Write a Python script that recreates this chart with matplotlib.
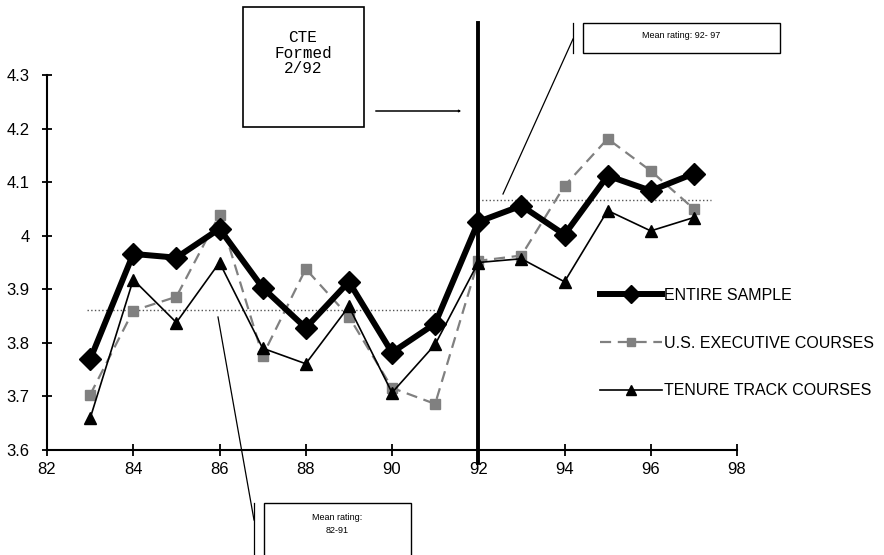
import matplotlib
matplotlib.use("Agg")
import matplotlib.pyplot as plt
from matplotlib.patches import Rectangle, FancyArrowPatch
from matplotlib.lines import Line2D

plt.rcParams['font.family'] = ['Liberation Sans', 'DejaVu Sans']

# data
years = [83, 84, 85, 86, 87, 88, 89, 90, 91, 92, 93, 94, 95, 96, 97]
entire_sample = [3.769, 3.966, 3.959, 4.013, 3.903, 3.828, 3.914, 3.782, 3.836,
                 4.026, 4.056, 4.002, 4.112, 4.084, 4.116]
us_executive = [3.703, 3.860, 3.886, 4.039, 3.776, 3.938, 3.849, 3.716, 3.686,
                3.953, 3.963, 4.093, 4.181, 4.121, 4.050]
tenure_track = [3.659, 3.918, 3.838, 3.950, 3.790, 3.761, 3.868, 3.707, 3.797,
                3.950, 3.957, 3.914, 4.047, 4.009, 4.034]

mean_pre = 3.862    # mean rating 82-91
mean_post = 4.067   # mean rating 92-97
cte_year = 92

W, H = 884, 555
fig = plt.figure(figsize=(W / 100, H / 100), dpi=100)
ax = fig.add_axes([47 / W, 1 - 450 / H, 690 / W, 375 / H])


def fx(px):
    return px / W


def fy(py):
    return 1 - py / H


# series
ax.plot(years, entire_sample, color='black', lw=4.3, marker='D', ms=11,
        label='ENTIRE SAMPLE', zorder=5)
ax.plot(years, us_executive, color='#808080', lw=1.6, ls=(0, (5, 3)),
        marker='s', ms=6.5, label='U.S. EXECUTIVE COURSES', zorder=4)
ax.plot(years, tenure_track, color='black', lw=1.2, marker='^', ms=9,
        label='TENURE TRACK COURSES', zorder=4)

# mean rating lines
ax.hlines(mean_pre, 82.93, 91.0, colors='#555555', linestyles=':', lw=1.0)
ax.hlines(mean_post, 92.0, 97.4, colors='#555555', linestyles=':', lw=1.0)

# CTE formed marker
ax.plot([cte_year, cte_year], [3.575, 4.397], color='black', lw=2.8,
        clip_on=False, zorder=6)

ax.set_xlim(82, 98)
ax.set_ylim(3.6, 4.3)
ax.set_xticks(range(82, 99, 2))
ax.set_yticks([3.6, 3.7, 3.8, 3.9, 4.0, 4.1, 4.2, 4.3])
ax.set_yticklabels(['3.6', '3.7', '3.8', '3.9', '4', '4.1', '4.2', '4.3'])
for side in ['top', 'right']:
    ax.spines[side].set_visible(False)
for side in ['left', 'bottom']:
    ax.spines[side].set_linewidth(1.5)
ax.tick_params(axis='y', direction='inout', length=7, width=1.3, labelsize=12, pad=9)
ax.tick_params(axis='x', direction='inout', length=8, width=1.3, labelsize=12, pad=5)

# legend
ax.legend(loc='upper left', bbox_to_anchor=(fx(592), fy(280)),
          bbox_transform=fig.transFigure, frameon=False, fontsize=11.5,
          handlelength=3.9, handletextpad=0.1, labelspacing=2.05,
          borderpad=0, markerscale=0.8)

# "CTE Formed" box and arrow
fig.patches.append(Rectangle((fx(243), fy(127)), fx(364) - fx(243), fy(7) - fy(127),
                             transform=fig.transFigure, fill=False, lw=1.2,
                             edgecolor='black'))
fig.text(fx(303), fy(53), 'CTE\nFormed\n2/92', family='Liberation Mono',
         fontsize=11.5, ha='center', va='center', linespacing=1.05)
fig.add_artist(FancyArrowPatch(
    (fx(373), fy(111)), (fx(464), fy(111)), transform=fig.transFigure,
    arrowstyle='->,head_length=0.9,head_width=0.5', lw=1.1, color='black'))

# "Mean rating: 92-97" callout
fig.patches.append(Rectangle((fx(583), fy(53)), fx(780) - fx(583), fy(23) - fy(53),
                             transform=fig.transFigure, fill=False, lw=1.0,
                             edgecolor='black'))
fig.text(fx(681), fy(36), 'Mean rating: 92- 97', fontsize=6.5, ha='center', va='center')
fig.add_artist(Line2D([fx(503), fx(573)], [fy(194), fy(39)], lw=0.9, color='black'))
fig.add_artist(Line2D([fx(573), fx(573)], [fy(23), fy(53)], lw=0.9, color='black'))

# "Mean rating: 82-91" callout
fig.patches.append(Rectangle((fx(264), fy(580)), fx(411) - fx(264), fy(503) - fy(580),
                             transform=fig.transFigure, fill=False, lw=1.0,
                             edgecolor='black'))
fig.text(fx(337), fy(524), 'Mean rating:\n82-91', fontsize=6.5, ha='center', va='center',
         linespacing=1.6)
fig.add_artist(Line2D([fx(218), fx(254)], [fy(317), fy(520)], lw=0.9, color='black'))
fig.add_artist(Line2D([fx(254), fx(254)], [fy(503), fy(560)], lw=0.9, color='black'))

fig.savefig('out.png', dpi=100)
